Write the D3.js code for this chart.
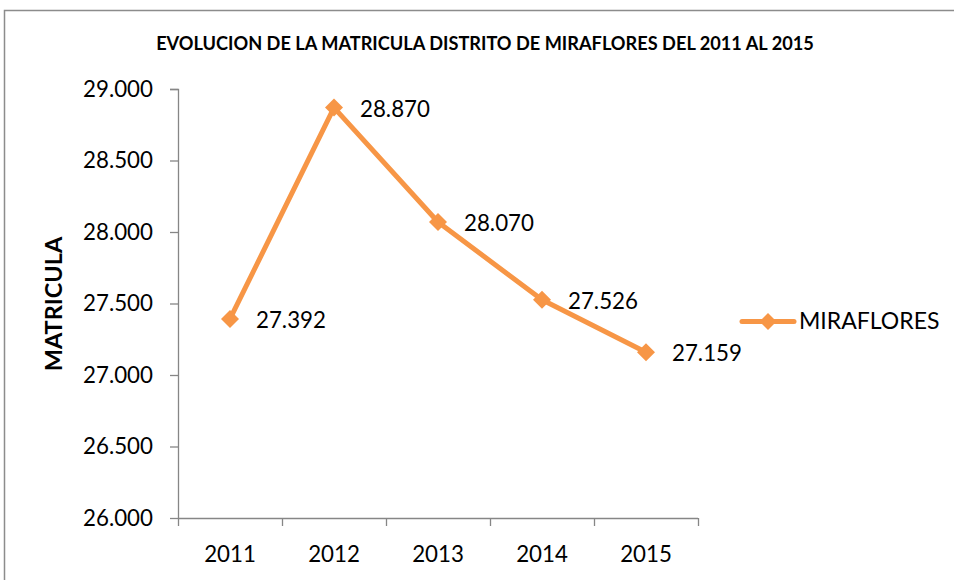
<!DOCTYPE html>
<html><head><meta charset="utf-8">
<script src="https://cdn.jsdelivr.net/npm/d3@7/dist/d3.min.js"></script>
<style>body{margin:0;background:#fff}svg{display:block}</style>
</head><body>
<svg id="c" width="954" height="580"></svg>
<script>
const years = ["2011","2012","2013","2014","2015"];
const matricula = [27392, 28870, 28070, 27526, 27159];
const valueLabels = ["27.392","28.870","28.070","27.526","27.159"];
const yTicks = [26000,26500,27000,27500,28000,28500,29000];
const yTickLabels = ["26.000","26.500","27.000","27.500","28.000","28.500","29.000"];
const seriesName = "MIRAFLORES";
const title = "EVOLUCION DE LA MATRICULA DISTRITO DE MIRAFLORES DEL 2011 AL 2015";

const font = "Lato, 'Open Sans', sans-serif";
const color = "#F79646", axisColor = "#868686";
const fs = 22.3;
const svg = d3.select("#c");
svg.append("rect").attr("x",4.5).attr("y",10.5).attr("width",1000).attr("height",1000)
  .attr("fill","none").attr("stroke","#8c8c8c").attr("stroke-width",1.5);

const x = d3.scaleBand().domain(years).range([178,698]);
const y = d3.scaleLinear().domain([26000,29000]).range([518,89]);

svg.append("text").attr("x",485).attr("y",50).attr("text-anchor","middle")
  .attr("font-family",font).attr("font-weight","bold").attr("font-size",18.2).text(title);

// y axis
const ya = svg.append("g").attr("transform","translate(178,0)")
  .call(d3.axisLeft(y).tickValues(yTicks).tickFormat((d,i)=>yTickLabels[i]).tickSize(8).tickPadding(17));
ya.select(".domain").attr("stroke",axisColor).attr("stroke-width",1.3).attr("d","M-8,89.5H0.5V518.5");
ya.selectAll(".tick line").attr("stroke",axisColor).attr("stroke-width",1.3);
ya.selectAll(".tick text").attr("font-family",font).attr("font-size",fs).attr("fill","#000");

// x axis
const xa = svg.append("g").attr("transform","translate(0,518)")
  .call(d3.axisBottom(x).tickSize(0).tickPadding(28));
xa.select(".domain").attr("stroke",axisColor).attr("stroke-width",1.3).attr("d","M178,0.5H698");
xa.selectAll(".tick text").attr("font-family",font).attr("font-size",fs).attr("fill","#000");
const edges = years.map(d=>x(d)).concat([x.range()[1]]);
xa.selectAll(".edge").data(edges).enter().append("line").attr("class","edge")
  .attr("x1",d=>d+0.5).attr("x2",d=>d+0.5).attr("y1",0).attr("y2",8)
  .attr("stroke",axisColor).attr("stroke-width",1.3);

const cx = d=>x(d)+x.bandwidth()/2;
const line = d3.line().x((d,i)=>cx(years[i])).y(d=>y(d));
svg.append("path").datum(matricula).attr("d",line).attr("fill","none")
  .attr("stroke",color).attr("stroke-width",5).attr("stroke-linejoin","round");

const diamond = s=>`M0,${-s}L${s},0L0,${s}L${-s},0Z`;
svg.selectAll(".m").data(matricula).enter().append("path")
  .attr("transform",(d,i)=>`translate(${cx(years[i])},${y(d)})`).attr("d",diamond(9)).attr("fill",color);

svg.selectAll(".lbl").data(matricula).enter().append("text")
  .attr("x",(d,i)=>cx(years[i])+26).attr("y",(d)=>y(d)+9)
  .attr("font-family",font).attr("font-size",fs).attr("fill","#000").text((d,i)=>valueLabels[i]);

svg.append("text").attr("transform","translate(62,304) rotate(-90)").attr("text-anchor","middle")
  .attr("font-family",font).attr("font-weight","bold").attr("font-size",23.5).text("MATRICULA");

// legend
svg.append("line").attr("x1",742).attr("x2",794).attr("y1",321.5).attr("y2",321.5)
  .attr("stroke",color).attr("stroke-width",5).attr("stroke-linecap","round");
svg.append("path").attr("transform","translate(768,321.5)").attr("d",diamond(8.5)).attr("fill",color);
svg.append("text").attr("x",799).attr("y",329).attr("font-family",font).attr("font-size",23).text(seriesName);
</script>
</body></html>
